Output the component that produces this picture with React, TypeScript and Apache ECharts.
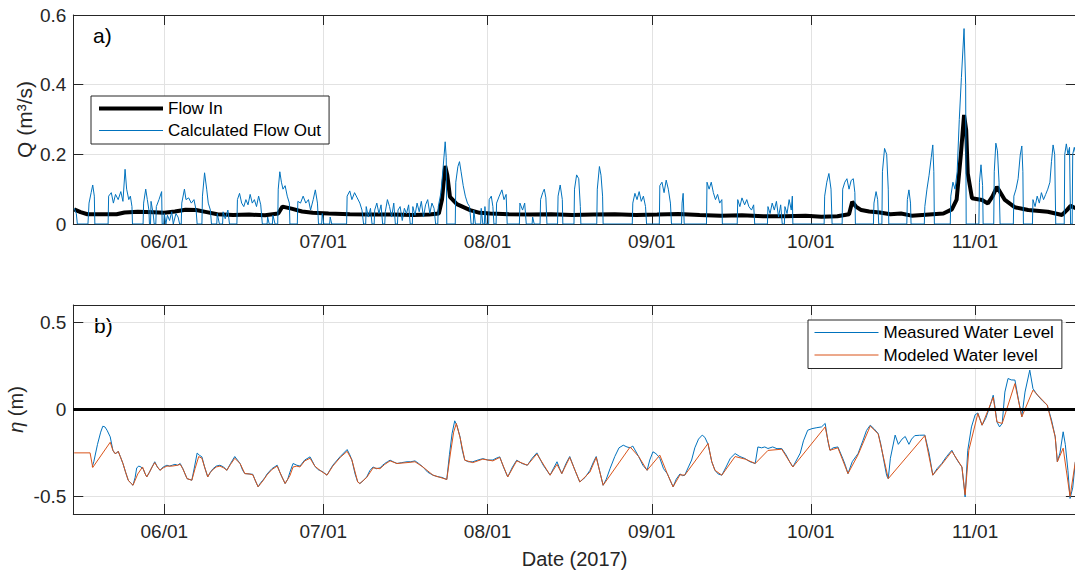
import React, { useEffect, useRef } from "react";
import * as echarts from "echarts";

// ---- axis definitions (x = days since 2017-05-15 00:00) ----
const START = Date.UTC(2017, 4, 15);
const DAY = 86400000;
const X_MIN = -4 / 24;
const X_MAX = (Date.UTC(2017, 10, 20) - START) / DAY;
const MONTH_DATES = [
  Date.UTC(2017, 5, 1),
  Date.UTC(2017, 6, 1),
  Date.UTC(2017, 7, 1),
  Date.UTC(2017, 8, 1),
  Date.UTC(2017, 9, 1),
  Date.UTC(2017, 10, 1),
];
const MONTH_TICKS = MONTH_DATES.map((t) => (t - START) / DAY);
const MONTH_LABELS = ["06/01", "07/01", "08/01", "09/01", "10/01", "11/01"];
const Q_TICKS = [0, 0.2, 0.4, 0.6];
const Q_LABELS = ["0", "0.2", "0.4", "0.6"];
const ETA_TICKS = [-0.5, 0, 0.5];
const ETA_LABELS = ["-0.5", "0", "0.5"];

// ---- data: [day since 2017-05-15, value] ----
const flowIn: [number, number][] = [
  [0, 0.042], [1.2, 0.034], [2.5, 0.028], [5, 0.028], [8, 0.028], [9.5, 0.033], [12, 0.035], [15, 0.034],
  [17, 0.032], [19, 0.036], [21, 0.041], [23, 0.04], [25, 0.034], [27, 0.028], [30, 0.026], [33, 0.027],
  [36, 0.025], [38.5, 0.03], [39.3, 0.05], [41, 0.044], [43, 0.036], [45, 0.032], [48, 0.03], [52, 0.028],
  [56, 0.027], [60, 0.027], [64, 0.026], [67, 0.027], [68.8, 0.03], [69.4, 0.07], [70.0, 0.167], [70.4, 0.14],
  [70.9, 0.078], [72.2, 0.057], [74.7, 0.04], [76.5, 0.032], [78.5, 0.03], [82, 0.028], [86, 0.027], [90, 0.028],
  [94, 0.026], [98, 0.027], [102, 0.028], [106, 0.026], [110, 0.027], [114, 0.029], [118, 0.026], [122, 0.024],
  [126, 0.025], [130, 0.022], [134, 0.022], [138, 0.024], [141, 0.021], [144, 0.022], [146.2, 0.028], [146.8, 0.064],
  [147.5, 0.05], [148.5, 0.04], [150, 0.036], [152, 0.033], [154, 0.028], [156, 0.03], [158, 0.024], [160, 0.026],
  [162, 0.028], [164, 0.03], [165.6, 0.042], [166.5, 0.07], [167.3, 0.2], [167.9, 0.313], [168.3, 0.27], [168.6, 0.145],
  [169.4, 0.074], [171.3, 0.069], [172.4, 0.059], [173.3, 0.08], [174.1, 0.107], [175.6, 0.069], [177.5, 0.048],
  [180, 0.04], [183.7, 0.035], [186.4, 0.026], [187.3, 0.04], [188, 0.052], [189, 0.045],
];

const flowOut: [number, number][] = [
  [0, 0.045], [0.4, 0.03], [0.6, 0], [2.6, 0], [2.8, 0.06], [3.2, 0.09], [3.5, 0.112], [3.8, 0.08], [3.9, 0],
  [6.4, 0], [6.5, 0.08], [7.0, 0.09], [7.4, 0.06], [7.8, 0.085], [8.3, 0.07], [8.8, 0.093], [9.2, 0.065], [9.6, 0.157],
  [9.9, 0.1], [10.3, 0.07], [10.6, 0.08], [10.9, 0.05], [11.0, 0],
  [13.0, 0], [13.1, 0.06], [13.5, 0.1], [13.8, 0.07], [14.1, 0.04], [14.2, 0], [14.4, 0], [14.5, 0.065], [14.9, 0.03],
  [15.1, 0], [15.4, 0], [15.5, 0.05], [16.0, 0.07], [16.5, 0.093], [16.6, 0],
  [16.9, 0], [17.0, 0.03], [17.3, 0], [17.6, 0.025], [18.0, 0.01], [18.4, 0.035], [18.7, 0], [19.2, 0.03], [19.6, 0.02], [19.9, 0],
  [20.2, 0], [20.3, 0.06], [20.8, 0.1], [21.1, 0.07], [21.6, 0.075], [22.1, 0.06], [22.6, 0.07], [23.0, 0.04], [23.2, 0],
  [24.1, 0], [24.2, 0.08], [24.6, 0.147], [25.0, 0.1], [25.3, 0.06], [25.7, 0.04], [25.9, 0],
  [26.9, 0], [27.0, 0.03], [27.4, 0], [28.0, 0], [28.1, 0.035], [28.5, 0.015], [29.0, 0.04], [29.3, 0],
  [30.7, 0], [30.8, 0.07], [31.2, 0.088], [31.6, 0.06], [32.0, 0.05], [32.4, 0.07], [32.8, 0.055], [33.2, 0.085],
  [33.6, 0.06], [34.0, 0.07], [34.4, 0.05], [34.8, 0.08], [35.2, 0.055], [35.5, 0],
  [36.4, 0], [36.5, 0.02], [36.8, 0], [37.4, 0], [37.5, 0.025], [37.9, 0],
  [38.4, 0], [38.5, 0.1], [38.8, 0.15], [39.1, 0.12], [39.4, 0.1], [39.8, 0.11], [40.2, 0.08], [40.6, 0.06], [40.7, 0],
  [42.1, 0], [42.2, 0.065], [42.7, 0.06], [43.2, 0.08], [43.7, 0.06], [44.2, 0.07], [44.6, 0.04], [45.1, 0.07],
  [45.5, 0.098], [45.9, 0.06], [46.1, 0],
  [46.7, 0], [46.8, 0.03], [47.1, 0], [48.2, 0], [48.3, 0.02], [48.6, 0],
  [51.4, 0], [51.5, 0.08], [52.0, 0.095], [52.4, 0.07], [52.9, 0.09], [53.4, 0.075], [53.9, 0.06], [54.3, 0.04],
  [54.6, 0], [55.0, 0], [55.1, 0.05], [55.5, 0.02], [55.9, 0.045], [56.2, 0], [56.6, 0], [56.7, 0.04], [57.1, 0.06],
  [57.5, 0.03], [57.9, 0.055], [58.2, 0], [58.6, 0], [58.7, 0.035], [59.1, 0.07], [59.5, 0.05], [59.9, 0.02],
  [60.3, 0.06], [60.6, 0], [61.0, 0], [61.1, 0.04], [61.5, 0.05], [61.9, 0.01], [62.3, 0.045], [62.7, 0.03],
  [63.1, 0.055], [63.4, 0], [63.8, 0], [63.9, 0.05], [64.3, 0.025], [64.7, 0.06], [65.1, 0.035], [65.5, 0.065],
  [65.9, 0.02], [66.3, 0.055], [66.7, 0.07], [67.1, 0.03], [67.5, 0.06], [67.9, 0.045], [68.2, 0],
  [68.6, 0], [68.7, 0.05], [69.2, 0.09], [69.6, 0.16], [70.0, 0.236], [70.2, 0.19], [70.3, 0],
  [71.9, 0], [72.0, 0.12], [72.4, 0.165], [72.7, 0.179], [73.0, 0.15], [73.4, 0.11], [73.8, 0.08], [74.2, 0.06],
  [74.6, 0.05], [74.9, 0], [75.3, 0], [75.4, 0.04], [75.7, 0], [76.7, 0], [76.8, 0.045], [77.1, 0], [77.4, 0],
  [77.5, 0.05], [77.7, 0],
  [78.2, 0], [78.3, 0.07], [78.7, 0.08], [79.0, 0.05], [79.2, 0], [79.6, 0], [79.7, 0.06], [80.2, 0.08], [80.7, 0.098],
  [81.1, 0.07], [81.5, 0.085], [81.7, 0],
  [84.0, 0], [84.1, 0.06], [84.6, 0.04], [85.0, 0.06], [85.3, 0], [86.4, 0], [86.5, 0.02], [86.8, 0],
  [87.9, 0], [88.0, 0.07], [88.4, 0.09], [88.7, 0.1], [89.0, 0.075], [89.2, 0],
  [91.2, 0], [91.3, 0.08], [91.7, 0.112], [92.1, 0.07], [92.2, 0],
  [94.3, 0], [94.4, 0.1], [94.8, 0.141], [95.2, 0.13], [95.5, 0.05], [95.6, 0],
  [98.6, 0], [98.7, 0.1], [99.1, 0.165], [99.4, 0.14], [99.7, 0.08], [99.8, 0],
  [105.3, 0], [105.4, 0.06], [105.8, 0.088], [106.2, 0.07], [106.6, 0.093], [107.0, 0.065], [107.4, 0.08],
  [107.8, 0.05], [108.0, 0],
  [110.4, 0], [110.5, 0.11], [110.9, 0.12], [111.3, 0.09], [111.7, 0.126], [112.1, 0.1], [112.5, 0.06], [112.7, 0],
  [114.6, 0], [114.7, 0.06], [114.9, 0.088], [115.1, 0],
  [119.3, 0], [119.4, 0.12], [119.8, 0.1], [120.2, 0.12], [120.6, 0.09], [121.0, 0.07], [121.4, 0.085],
  [121.8, 0.06], [122.2, 0.07], [122.3, 0],
  [125.1, 0], [125.2, 0.07], [125.6, 0.05], [126.0, 0.075], [126.5, 0.055], [126.9, 0.07], [127.3, 0.05],
  [127.8, 0.04], [128.2, 0.055], [128.4, 0],
  [130.8, 0], [130.9, 0.05], [131.3, 0.03], [131.7, 0.06], [132.1, 0.04], [132.5, 0.065], [132.9, 0.02],
  [133.3, 0.055], [133.6, 0], [134.0, 0], [134.1, 0.05], [134.5, 0.03], [134.9, 0.07], [135.3, 0.04], [135.5, 0.08], [135.6, 0],
  [141.5, 0], [141.6, 0.08], [142.0, 0.12], [142.4, 0.145], [142.8, 0.1], [143.0, 0],
  [144.9, 0], [145.0, 0.1], [145.4, 0.12], [145.8, 0.13], [146.2, 0.1], [146.6, 0.125], [147.0, 0.13], [147.3, 0.09], [147.4, 0],
  [150.8, 0], [150.9, 0.06], [151.3, 0.093], [151.6, 0.07], [151.8, 0],
  [152.4, 0], [152.5, 0.15], [152.9, 0.217], [153.3, 0.2], [153.6, 0.1], [153.7, 0],
  [157.1, 0], [157.2, 0.07], [157.5, 0.098], [157.8, 0.06], [157.9, 0],
  [160.4, 0], [160.5, 0.05], [160.9, 0.1], [161.3, 0.14], [161.7, 0.19], [162.0, 0.227], [162.2, 0.15], [162.3, 0],
  [165.3, 0], [165.4, 0.08], [165.8, 0.12], [166.2, 0.1], [166.6, 0.15], [167.0, 0.3], [167.4, 0.42], [167.9, 0.561],
  [168.2, 0.4], [168.3, 0],
  [170.7, 0], [170.8, 0.12], [171.1, 0.17], [171.4, 0.11], [171.5, 0],
  [173.5, 0], [173.6, 0.15], [173.9, 0.232], [174.2, 0.21], [174.5, 0.12], [174.7, 0],
  [177.2, 0], [177.3, 0.08], [177.7, 0.1], [178.1, 0.13], [178.5, 0.198], [178.8, 0.224], [179.0, 0.15], [179.1, 0],
  [180.8, 0], [180.9, 0.07], [181.3, 0.05], [181.7, 0.08], [182.1, 0.06], [182.5, 0.09], [182.9, 0.07], [183.3, 0.085],
  [183.7, 0.1], [184.1, 0.12], [184.4, 0.18], [184.7, 0.227], [185.0, 0.2], [185.2, 0],
  [186.8, 0], [186.9, 0.2], [187.2, 0.23], [187.5, 0.2], [187.8, 0.22], [188.0, 0], [188.3, 0], [188.4, 0.2],
  [188.7, 0.22], [189.0, 0.2],
];

const measuredLevel: [number, number][] = [
  [3.4, -0.33], [3.7, -0.3], [4.4, -0.2], [5.0, -0.13], [5.4, -0.096], [5.8, -0.1], [6.2, -0.119], [6.8, -0.157],
  [7.3, -0.234], [7.7, -0.253], [8.0, -0.25], [8.3, -0.24], [8.7, -0.27], [9.2, -0.31], [9.7, -0.36], [10.2, -0.406],
  [10.6, -0.42], [11.1, -0.435], [11.5, -0.39], [11.8, -0.335], [12.2, -0.325], [12.6, -0.33], [13.0, -0.34],
  [13.4, -0.37], [13.7, -0.387], [14.2, -0.36], [14.7, -0.33], [15.2, -0.3], [15.7, -0.33], [16.2, -0.349],
  [16.8, -0.33], [17.5, -0.32], [18.0, -0.325], [18.5, -0.32], [19.0, -0.315], [19.5, -0.32], [20.0, -0.31],
  [20.5, -0.34], [21.3, -0.397], [22.2, -0.406], [22.7, -0.33], [23.2, -0.25], [23.6, -0.262], [24.1, -0.272],
  [24.6, -0.33], [25.2, -0.387], [25.7, -0.36], [26.2, -0.34], [26.8, -0.325], [27.5, -0.32], [28.2, -0.33],
  [28.8, -0.349], [29.5, -0.31], [30.3, -0.27], [30.8, -0.29], [31.3, -0.31], [31.8, -0.35], [32.2, -0.368],
  [33.0, -0.37], [33.7, -0.372], [34.2, -0.41], [34.7, -0.444], [35.2, -0.42], [35.6, -0.406], [36.0, -0.39],
  [36.4, -0.37], [37.3, -0.34], [38.3, -0.32], [38.8, -0.36], [39.2, -0.387], [39.8, -0.425], [40.3, -0.4],
  [40.7, -0.36], [41.3, -0.31], [42.0, -0.32], [42.6, -0.325], [43.5, -0.29], [44.5, -0.272], [45.0, -0.3],
  [45.4, -0.325], [46.0, -0.345], [46.4, -0.35], [47.0, -0.36], [47.7, -0.377], [48.2, -0.35], [48.8, -0.32],
  [50.2, -0.27], [51.5, -0.23], [52.0, -0.26], [52.4, -0.29], [53.0, -0.37], [53.5, -0.416], [53.9, -0.425],
  [54.5, -0.41], [55.2, -0.387], [55.8, -0.35], [56.4, -0.33], [57.0, -0.34], [57.7, -0.335], [58.2, -0.32],
  [58.6, -0.31], [59.1, -0.3], [59.6, -0.291], [60.2, -0.3], [60.9, -0.31], [61.8, -0.305], [62.8, -0.3],
  [63.5, -0.3], [64.3, -0.295], [65.0, -0.31], [65.8, -0.33], [66.7, -0.36], [67.7, -0.377], [68.5, -0.385],
  [69.4, -0.39], [70.3, -0.402], [70.8, -0.26], [71.3, -0.138], [71.8, -0.065], [72.2, -0.09], [72.8, -0.157],
  [73.2, -0.23], [73.7, -0.291], [74.4, -0.3], [75.2, -0.3], [76.2, -0.29], [77.1, -0.282], [78.0, -0.29],
  [79.0, -0.29], [79.6, -0.28], [80.3, -0.272], [81.0, -0.33], [81.8, -0.387], [82.7, -0.33], [83.5, -0.291],
  [84.5, -0.31], [85.5, -0.32], [86.4, -0.28], [87.3, -0.249], [88.5, -0.32], [89.8, -0.377], [90.4, -0.34],
  [91.1, -0.3], [91.6, -0.34], [92.0, -0.368], [92.8, -0.31], [93.5, -0.27], [94.5, -0.35], [95.4, -0.416],
  [96.4, -0.39], [97.3, -0.35], [98.0, -0.3], [98.5, -0.27], [99.2, -0.36], [99.8, -0.435], [100.4, -0.4],
  [101.1, -0.34], [102.0, -0.27], [102.8, -0.22], [103.6, -0.205], [104.3, -0.215], [104.9, -0.22], [105.4, -0.21],
  [106.5, -0.27], [107.3, -0.32], [108.1, -0.349], [108.6, -0.29], [109.2, -0.243], [109.6, -0.25], [110.0, -0.26],
  [110.5, -0.28], [111.2, -0.34], [111.9, -0.368], [112.5, -0.41], [113.0, -0.444], [113.6, -0.4], [114.3, -0.37],
  [114.8, -0.38], [115.2, -0.377], [115.9, -0.33], [116.5, -0.29], [117.1, -0.22], [117.8, -0.17], [118.5, -0.147],
  [119.0, -0.16], [119.6, -0.2], [120.3, -0.3], [120.9, -0.349], [121.5, -0.37], [122.2, -0.377], [123.0, -0.33],
  [123.8, -0.28], [124.7, -0.253], [125.6, -0.27], [126.6, -0.282], [127.5, -0.3], [128.5, -0.31], [129.0, -0.215],
  [129.7, -0.22], [130.3, -0.215], [130.9, -0.224], [131.8, -0.215], [132.6, -0.225], [133.5, -0.224], [134.3, -0.26],
  [135.0, -0.3], [135.6, -0.33], [136.3, -0.29], [137.0, -0.25], [137.6, -0.18], [138.4, -0.119], [139.2, -0.11],
  [140.0, -0.105], [141.0, -0.1], [141.7, -0.08], [142.2, -0.18], [142.6, -0.234], [143.2, -0.22], [144.1, -0.215],
  [145.0, -0.28], [145.5, -0.32], [146.0, -0.368], [146.8, -0.3], [147.9, -0.253], [148.8, -0.18], [149.5, -0.12],
  [150.2, -0.09], [150.9, -0.11], [151.7, -0.138], [152.2, -0.2], [152.8, -0.3], [153.3, -0.38], [153.6, -0.397],
  [154.0, -0.28], [154.9, -0.147], [155.5, -0.2], [156.2, -0.17], [156.8, -0.155], [157.5, -0.2], [158.0, -0.17],
  [158.6, -0.15], [159.5, -0.148], [160.5, -0.147], [161.3, -0.25], [162.0, -0.377], [162.8, -0.34], [163.7, -0.31],
  [164.6, -0.27], [165.6, -0.234], [166.2, -0.27], [166.8, -0.3], [167.5, -0.33], [168.1, -0.502], [168.6, -0.234],
  [169.3, -0.1], [170.0, -0.03], [170.5, -0.02], [171.3, -0.09], [172.0, -0.05], [172.8, 0.02], [173.4, 0.082],
  [173.8, 0.0], [174.1, -0.071], [174.6, -0.1], [175.1, -0.08], [175.6, 0.1], [176.2, 0.178], [176.8, 0.17],
  [177.5, 0.169], [178.2, 0.05], [178.8, -0.042], [179.4, 0.1], [180.3, 0.226], [180.9, 0.12], [181.8, 0.08],
  [182.7, 0.05], [183.6, 0.025], [184.4, -0.06], [185.1, -0.157], [185.5, -0.3], [186.0, -0.25], [186.6, -0.128],
  [187.0, -0.2], [187.5, -0.35], [187.9, -0.511], [188.4, -0.45], [188.9, -0.3],
];

const modeledLevel: [number, number][] = [
  [0, -0.249], [3.0, -0.249], [3.5, -0.333], [6.8, -0.188], [7.3, -0.234], [7.7, -0.253], [8.0, -0.25], [8.3, -0.24],
  [8.7, -0.27], [9.2, -0.31], [9.7, -0.36], [10.2, -0.406], [10.6, -0.42], [11.1, -0.435], [12.0, -0.37],
  [12.9, -0.33], [13.4, -0.37], [13.7, -0.387], [14.2, -0.36], [14.7, -0.33], [15.2, -0.305], [15.7, -0.33],
  [16.2, -0.349], [16.8, -0.335], [17.5, -0.325], [18.5, -0.325], [19.5, -0.32], [20.0, -0.315], [20.5, -0.34],
  [21.3, -0.397], [22.2, -0.406], [22.8, -0.34], [23.5, -0.27], [24.1, -0.28], [24.6, -0.33], [25.2, -0.387],
  [25.7, -0.36], [26.2, -0.345], [26.8, -0.33], [27.5, -0.325], [28.2, -0.335], [28.8, -0.349], [29.5, -0.315],
  [30.3, -0.28], [31.3, -0.31], [32.2, -0.368], [33.0, -0.37], [33.7, -0.375], [34.7, -0.444], [35.6, -0.41],
  [36.4, -0.375], [37.3, -0.345], [38.3, -0.325], [39.2, -0.387], [39.8, -0.425], [40.7, -0.38], [41.3, -0.33],
  [42.0, -0.325], [42.6, -0.33], [43.5, -0.295], [44.5, -0.28], [45.4, -0.325], [46.4, -0.35], [47.7, -0.377],
  [48.8, -0.325], [50.2, -0.275], [51.5, -0.24], [52.4, -0.29], [53.5, -0.416], [53.9, -0.425], [55.2, -0.39],
  [56.4, -0.335], [57.7, -0.34], [58.6, -0.315], [59.6, -0.295], [60.9, -0.31], [62.8, -0.305], [64.3, -0.3],
  [65.8, -0.33], [67.7, -0.377], [70.3, -0.402], [71.0, -0.25], [71.6, -0.13], [72.1, -0.08], [72.8, -0.16],
  [73.7, -0.291], [75.2, -0.305], [77.1, -0.285], [79.0, -0.295], [80.3, -0.275], [81.8, -0.387], [83.5, -0.295],
  [85.5, -0.32], [87.3, -0.255], [89.8, -0.377], [91.1, -0.315], [92.0, -0.368], [93.5, -0.275], [95.4, -0.416],
  [97.3, -0.36], [98.5, -0.275], [99.8, -0.435], [104.9, -0.215], [106.5, -0.27], [108.1, -0.349], [110.5, -0.262],
  [111.9, -0.368], [113.0, -0.444], [114.3, -0.375], [115.2, -0.377], [119.6, -0.195], [120.3, -0.3], [120.9, -0.349],
  [122.2, -0.377], [124.7, -0.27], [126.6, -0.285], [128.5, -0.31], [130.9, -0.235], [133.5, -0.228], [135.6, -0.33],
  [141.7, -0.1], [142.6, -0.234], [144.1, -0.22], [146.0, -0.368], [147.9, -0.26], [150.2, -0.095], [151.7, -0.14],
  [153.6, -0.397], [160.5, -0.15], [162.0, -0.377], [163.7, -0.315], [165.6, -0.24], [167.5, -0.33], [168.1, -0.49],
  [168.8, -0.234], [170.5, -0.023], [171.3, -0.09], [173.4, 0.07], [174.1, -0.071], [175.1, -0.08], [177.5, 0.149],
  [178.8, -0.042], [180.9, 0.111], [183.6, 0.025], [185.1, -0.157], [185.5, -0.3], [186.6, -0.222], [187.9, -0.5],
  [188.9, -0.3],
];

// ---- styling ----
const FONT = "'Liberation Sans', Arial, Helvetica, sans-serif";
const AX = "#262626";
const GRIDLINE = "#e2e2e2";
const TICK_FONT = 19;
const NAME_FONT = 20;
const PX_PER_DAY = 5.3;

const findLabel = (ticks: number[], labels: string[], tol: number) => (v: number) => {
  const i = ticks.findIndex((t) => Math.abs(t - v) < tol);
  return i >= 0 ? labels[i] : "";
};

function xAxis(gridIndex: number, position: "top" | "bottom", labels: boolean, extra: any = {}) {
  return {
    type: "value",
    gridIndex,
    position,
    min: X_MIN,
    max: X_MAX,
    nameMoveOverlap: false,
    axisLine: { show: true, onZero: false, lineStyle: { color: AX, width: 1 } },
    axisTick: {
      show: true,
      inside: true,
      length: 10,
      customValues: MONTH_TICKS,
      lineStyle: { color: AX, width: 1 },
    },
    axisLabel: {
      show: labels,
      customValues: MONTH_TICKS,
      formatter: findLabel(MONTH_TICKS, MONTH_LABELS, 0.01),
      color: AX,
      fontSize: TICK_FONT,
      fontFamily: FONT,
      margin: 8,
    },
    splitLine: { show: position === "bottom", lineStyle: { color: GRIDLINE, width: 1 } },
    ...extra,
  };
}

function yAxis(
  gridIndex: number,
  position: "left" | "right",
  min: number,
  max: number,
  ticks: number[],
  labels: string[],
  extra: any = {}
) {
  return {
    type: "value",
    gridIndex,
    position,
    min,
    max,
    nameMoveOverlap: false,
    axisLine: { show: true, onZero: false, lineStyle: { color: AX, width: 1 } },
    axisTick: { show: true, inside: true, length: 10, customValues: ticks, lineStyle: { color: AX, width: 1 } },
    axisLabel: {
      show: position === "left",
      customValues: ticks,
      formatter: findLabel(ticks, labels, 1e-9),
      color: AX,
      fontSize: TICK_FONT,
      fontFamily: FONT,
      margin: 7,
    },
    splitLine: { show: position === "left", lineStyle: { color: GRIDLINE, width: 1 } },
    ...extra,
  };
}

const hiddenSymbol = { color: "rgba(0,0,0,0)", borderWidth: 0, opacity: 0 };

const legendBase = {
  orient: "vertical",
  padding: [4, 8, 5, 6],
  itemGap: 5,
  itemWidth: 64,
  itemHeight: 18,
  backgroundColor: "#ffffff",
  borderColor: AX,
  borderWidth: 1,
  borderRadius: 0,
  selectedMode: false,
  itemStyle: hiddenSymbol,
  textStyle: { fontSize: 17, color: "#000", fontFamily: FONT },
};

export default function App() {
  const ref = useRef<HTMLDivElement>(null);

  useEffect(() => {
    if (!ref.current) return;
    const chart = echarts.init(ref.current, null, { renderer: "svg" });
    const GRID_W = (X_MAX - X_MIN) * PX_PER_DAY;
    const option: any = {
      animation: false,
      backgroundColor: "#ffffff",
      textStyle: { fontFamily: FONT },
      grid: [
        { left: 73.3, top: 15, width: GRID_W, height: 209, containLabel: false, outerBoundsMode: "none" },
        { left: 73.3, top: 305, width: GRID_W, height: 209, containLabel: false, outerBoundsMode: "none" },
      ],
      xAxis: [
        xAxis(0, "bottom", true),
        xAxis(0, "top", false),
        xAxis(1, "bottom", true, {
          name: "Date (2017)",
          nameLocation: "middle",
          nameGap: 35,
          nameTextStyle: { fontSize: NAME_FONT, color: AX, fontFamily: FONT },
        }),
        xAxis(1, "top", false),
      ],
      yAxis: [
        yAxis(0, "left", 0, 0.6, Q_TICKS, Q_LABELS, {
          name: "Q (m³/s)",
          nameLocation: "middle",
          nameGap: 38,
          nameRotate: 90,
          nameTextStyle: { fontSize: 21, color: AX, fontFamily: FONT },
        }),
        yAxis(0, "right", 0, 0.6, Q_TICKS, Q_LABELS),
        yAxis(1, "left", -0.6, 0.6, ETA_TICKS, ETA_LABELS, {
          name: "{i|η} (m)",
          nameLocation: "middle",
          nameGap: 47,
          nameRotate: 90,
          nameTextStyle: {
            fontSize: NAME_FONT,
            color: AX,
            fontFamily: FONT,
            rich: { i: { fontStyle: "italic", fontSize: NAME_FONT, color: AX, fontFamily: FONT } },
          },
        }),
        yAxis(1, "right", -0.6, 0.6, ETA_TICKS, ETA_LABELS),
      ],
      legend: [
        {
          ...legendBase,
          left: 91,
          top: 96,
          data: [
            { name: "Flow In", lineStyle: { width: 4, color: "#000" }, itemStyle: hiddenSymbol },
            { name: "Calculated Flow Out", lineStyle: { width: 1, color: "#0072BD" }, itemStyle: hiddenSymbol },
          ],
        },
        {
          ...legendBase,
          left: 808,
          top: 320,
          itemGap: 5.5,
          data: [
            { name: "Measured Water Level", lineStyle: { width: 1, color: "#0072BD" }, itemStyle: hiddenSymbol },
            { name: "Modeled Water level", lineStyle: { width: 1, color: "#D95319" }, itemStyle: hiddenSymbol },
          ],
        },
      ],
      graphic: [
        { type: "text", left: 93, top: 25, style: { text: "a)", font: `21px ${FONT}`, fill: "#000" } },
        { type: "text", left: 94, top: 315, style: { text: "b)", font: `21px ${FONT}`, fill: "#000" } },
      ],
      series: [
        {
          name: "Flow In",
          type: "line",
          xAxisIndex: 0,
          yAxisIndex: 0,
          data: flowIn,
          symbol: "none",
          showSymbol: false,
          color: "#000",
          lineStyle: { width: 4, color: "#000" },
        },
        {
          name: "Calculated Flow Out",
          type: "line",
          xAxisIndex: 0,
          yAxisIndex: 0,
          data: flowOut,
          symbol: "none",
          showSymbol: false,
          color: "#0072BD",
          lineStyle: { width: 1, color: "#0072BD" },
        },
        {
          name: "Measured Water Level",
          type: "line",
          xAxisIndex: 2,
          yAxisIndex: 2,
          data: measuredLevel,
          symbol: "none",
          showSymbol: false,
          color: "#0072BD",
          lineStyle: { width: 1, color: "#0072BD" },
        },
        {
          name: "Modeled Water level",
          type: "line",
          xAxisIndex: 2,
          yAxisIndex: 2,
          data: modeledLevel,
          symbol: "none",
          showSymbol: false,
          color: "#D95319",
          lineStyle: { width: 1, color: "#D95319" },
          markLine: {
            silent: true,
            symbol: "none",
            label: { show: false },
            lineStyle: { color: "#000", width: 3, type: "solid" },
            data: [{ yAxis: 0 }],
          },
        },
      ],
    };
    chart.setOption(option);
    return () => chart.dispose();
  }, []);

  return (
    <div
      ref={ref}
      style={{ position: "absolute", left: 0, top: 0, width: 1075, height: 571, background: "#fff" }}
    />
  );
}
